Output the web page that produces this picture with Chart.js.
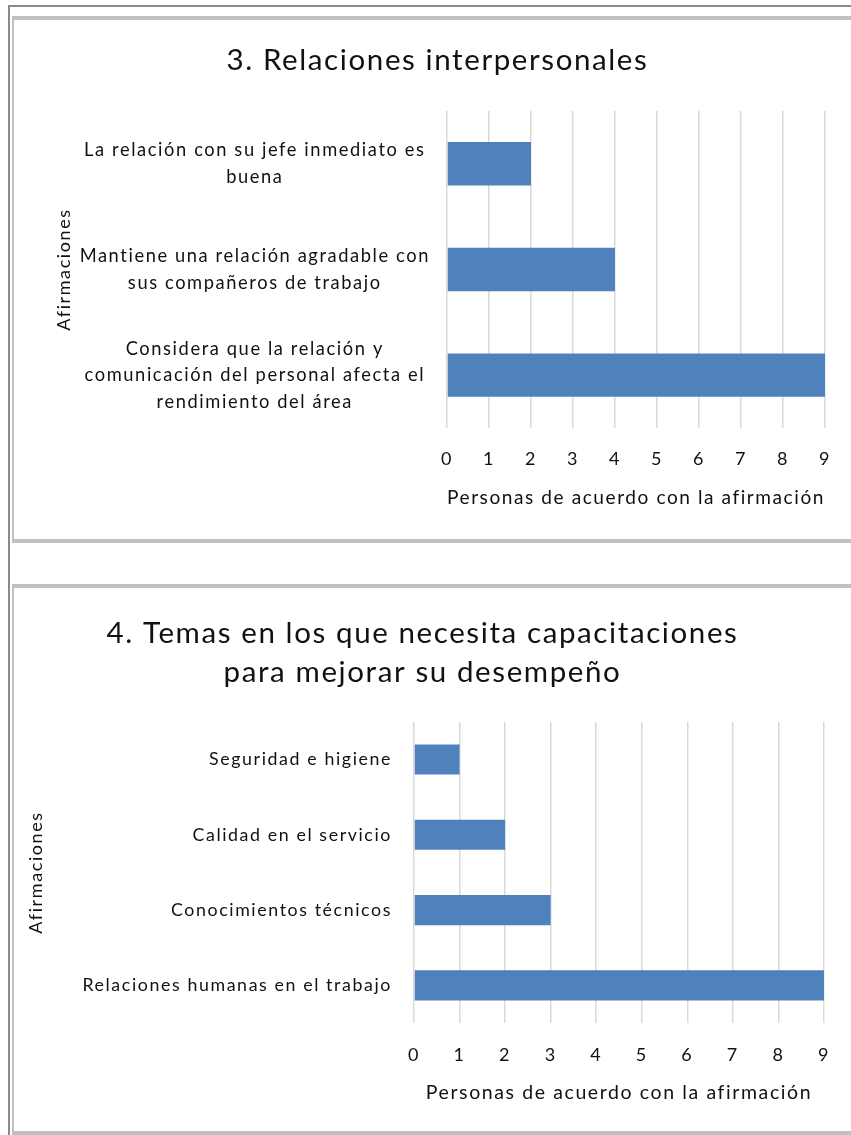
<!DOCTYPE html>
<html>
<head>
<meta charset="utf-8">
<script src="https://cdn.jsdelivr.net/npm/chart.js@4.4.1/dist/chart.umd.min.js"></script>
<style>
  html, body { margin: 0; padding: 0; background: #fff; }
  body { width: 851px; height: 1135px; position: relative; overflow: hidden; }
  .outer-top { position: absolute; left: 8px; top: 5px; width: 843px; height: 2px; background: #8a8a8a; }
  .outer-left { position: absolute; left: 8px; top: 5px; width: 2px; height: 1130px; background: #8a8a8a; }
  .box { position: absolute; left: 12px; width: 839px; box-sizing: border-box;
         border-top: 4px solid #c0c0c0; border-bottom: 4px solid #c0c0c0; border-left: 2px solid #c0c0c0; }
  #box1 { top: 16px; height: 527px; }
  #box2 { top: 584px; height: 551px; }
  canvas { position: absolute; }
  #c1 { left: 14px; top: 21px; }
  #c2 { left: 14px; top: 589px; }
</style>
</head>
<body>
<div class="outer-top"></div>
<div class="outer-left"></div>
<div class="box" id="box1"></div>
<div class="box" id="box2"></div>
<canvas id="c1" width="837" height="517"></canvas>
<canvas id="c2" width="837" height="542"></canvas>
<script>
// ---- Data ----
const title1 = "3. Relaciones interpersonales";
const categories1 = [
  ["La relación con su jefe inmediato es", "buena"],
  ["Mantiene una relación agradable con", "sus compañeros de trabajo"],
  ["Considera que la relación y", "comunicación del personal afecta el", "rendimiento del área"]
];
const values1 = [2, 4, 9];

const title2 = ["4. Temas en los que necesita capacitaciones", "para mejorar su desempeño"];
const categories2 = [
  "Seguridad e higiene",
  "Calidad en el servicio",
  "Conocimientos técnicos",
  "Relaciones humanas en el trabajo"
];
const values2 = [1, 2, 3, 9];

const xTicks = [0, 1, 2, 3, 4, 5, 6, 7, 8, 9];
const xAxisTitle = "Personas de acuerdo con la afirmación";
const yAxisTitle = "Afirmaciones";

// ---- Styles ----
const FONT = "Lato, 'Open Sans', sans-serif";
const TEXT = "#111";
const BAR = "#4f81bd";
const GRID = "#d9d9d9";
const SPACING = '1.6px';

const spacingPlugin = {
  id: 'letterSpacing',
  beforeInit(chart) { chart.ctx.letterSpacing = SPACING; },
  beforeUpdate(chart) { chart.ctx.letterSpacing = SPACING; },
  beforeLayout(chart) { chart.ctx.letterSpacing = SPACING; },
  beforeDraw(chart) { chart.ctx.letterSpacing = SPACING; }
};

function makeChart(id, cfg) {
  return new Chart(document.getElementById(id), {
    type: 'bar',
    plugins: [spacingPlugin],
    data: {
      labels: cfg.labels,
      datasets: [{
        data: cfg.values,
        backgroundColor: BAR,
        borderWidth: 0,
        categoryPercentage: 1,
        barPercentage: cfg.barPct
      }]
    },
    options: {
      indexAxis: 'y',
      responsive: false,
      animation: false,
      devicePixelRatio: 1,
      layout: { padding: cfg.pad },
      plugins: {
        legend: { display: false },
        tooltip: { enabled: false },
        title: {
          display: true,
          text: cfg.title,
          color: TEXT,
          font: { family: FONT, size: 29.5, weight: 'normal', lineHeight: 1.32 },
          padding: cfg.titlePad
        }
      },
      scales: {
        x: {
          min: 0, max: 9,
          afterBuildTicks: (s) => { s.ticks = xTicks.map(v => ({ value: v })); },
          afterFit: (s) => { s.height = cfg.xH; },
          ticks: { color: TEXT, font: { family: FONT, size: 18 }, padding: cfg.xTickPad, maxRotation: 0 },
          grid: { color: GRID, lineWidth: 1.5, drawTicks: false },
          border: { display: false },
          title: { display: true, text: xAxisTitle, color: TEXT, font: { family: FONT, size: 19.5, lineHeight: 1.2 } }
        },
        y: {
          afterFit: (s) => { s.width = cfg.yW; },
          ticks: { color: TEXT, font: { family: FONT, size: cfg.labelSize, lineHeight: 1.45 }, padding: cfg.yTickPad, crossAlign: cfg.crossAlign, autoSkip: false },
          grid: { display: false, drawTicks: false },
          border: { display: false },
          title: { display: true, text: yAxisTitle, color: TEXT, font: { family: FONT, size: 18, lineHeight: 1.2 } }
        }
      }
    }
  });
}

makeChart('c1', {
  labels: categories1, values: values1, title: title1,
  barPct: 0.41, labelSize: 18.3,
  pad: { left: 35, right: 25, top: 0, bottom: 25 },
  titlePad: { top: 20, bottom: 31 },
  xH: 85, xTickPad: 20,
  yW: 398, yTickPad: 17, crossAlign: 'center'
});

makeChart('c2', {
  labels: categories2, values: values2, title: title2,
  barPct: 0.4, labelSize: 17.8,
  pad: { left: 7, right: 27, top: 0, bottom: 23 },
  titlePad: { top: 25, bottom: 30 },
  xH: 85, xTickPad: 21,
  yW: 393, yTickPad: 22, crossAlign: 'near'
});
</script>
</body>
</html>
